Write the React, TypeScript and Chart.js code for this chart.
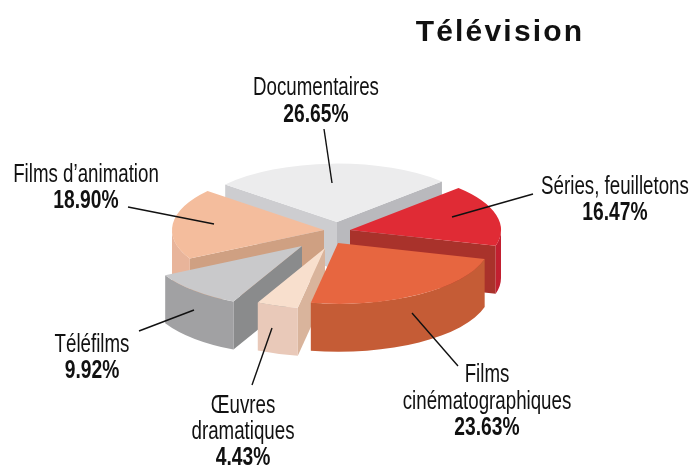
import React, { useEffect, useRef } from "react";
import { Chart, registerables } from "chart.js";

Chart.register(...registerables);

const categories = ["Documentaires", "Séries, feuilletons", "Films cinématographiques", "Œuvres dramatiques", "Téléfilms", "Films d'animation"];
const shares = [26.65, 16.47, 23.63, 4.43, 9.92, 18.9];
const topColors = ["#ececed", "#e02b35", "#e76640", "#f8dfcd", "#c9c9cb", "#f4bd9d"];
const outerWallColors = ["#cdcdd0", "#c21f30", "#c55c36", "#e9c9b9", "#a1a1a3", "#e8b49a"];
const startWallColors = ["#cdcdd0", "#a9322b", "#c55c36", "#d9b49c", "#8a8b8c", "#cfa082"];
const endWallColors = ["#b9b9bd", "#a9322b", "#c55c36", "#d9b49c", "#8a8b8c", "#cfa082"];

// how each slice is pulled out of the pie, on screen, and its radius
const pullX = [0, 13, 1, -12, -35, -13];
const pullY = [-9, -1, 12, 17, 15, -1];
const sliceRadius = [146, 151, 152, 152, 155, 152];
const paintOrder = [0, 5, 1, 4, 3, 2];

const TILT = 0.4;
const DEPTH = 48;

type Caption = { lines: string[]; value: number; cx: number; base: number; gap: number; leader: number[] };
const captions: Caption[] = [
  { lines: ["Documentaires"], value: 0, cx: 316, base: 95, gap: 27, leader: [324, 129, 332, 183] },
  { lines: ["Séries, feuilletons"], value: 1, cx: 615, base: 194, gap: 26, leader: [533, 194, 452, 217] },
  { lines: ["Films", "cinématographiques"], value: 2, cx: 487, base: 382, gap: 26.5, leader: [458, 366, 412, 313] },
  { lines: ["Œuvres", "dramatiques"], value: 3, cx: 243, base: 413, gap: 26, leader: [252, 385, 272, 328] },
  { lines: ["Téléfilms"], value: 4, cx: 92, base: 352, gap: 26, leader: [139, 331, 194, 310] },
  { lines: ["Films d’animation"], value: 5, cx: 86, base: 182, gap: 26, leader: [128, 207, 214, 224] },
];

const pie3d = {
  id: "pie3d",
  beforeDatasetDraw(chart: any, args: any) {
    const ctx = chart.ctx;
    const area = chart.chartArea;
    const cx = (area.left + area.right) / 2;
    const cy = (area.top + area.bottom) / 2;
    const arcs = args.meta.data;
    arcs.forEach((arc: any, i: number) => {
      arc.x = cx + pullX[i];
      arc.y = cy + pullY[i] / TILT;
      arc.outerRadius = sliceRadius[i];
    });
    const wall = (arc: any, angle: number, color: string) => {
      const ax = arc.x;
      const ay = cy + (arc.y - cy) * TILT;
      const r = arc.outerRadius;
      const ex = ax + Math.cos(angle) * r;
      const ey = ay + Math.sin(angle) * r * TILT;
      ctx.fillStyle = color;
      ctx.beginPath();
      ctx.moveTo(ax, ay);
      ctx.lineTo(ex, ey);
      ctx.lineTo(ex, ey + DEPTH);
      ctx.lineTo(ax, ay + DEPTH);
      ctx.closePath();
      ctx.fill();
    };
    ctx.save();
    for (const i of paintOrder) {
      const arc = arcs[i];
      const s = arc.startAngle;
      const e = arc.endAngle;
      if (Math.cos(s) < 0) wall(arc, s, startWallColors[i]);
      if (Math.cos(e) > 0) wall(arc, e, endWallColors[i]);
      const norm = (a: number) => Math.atan2(Math.sin(a), Math.cos(a));
      let a0 = norm(s);
      let a1 = a0 + (e - s);
      a0 = Math.max(a0, 0);
      a1 = Math.min(a1, Math.PI);
      if (a1 > a0) {
        const ax = arc.x;
        const ay = cy + (arc.y - cy) * TILT;
        const r = arc.outerRadius;
        ctx.fillStyle = outerWallColors[i];
        ctx.beginPath();
        ctx.ellipse(ax, ay, r, r * TILT, 0, a0, a1, false);
        ctx.ellipse(ax, ay + DEPTH, r, r * TILT, 0, a1, a0, true);
        ctx.closePath();
        ctx.fill();
      }
    }
    ctx.restore();
    ctx.save();
    ctx.translate(0, cy);
    ctx.scale(1, TILT);
    ctx.translate(0, -cy);
  },
  afterDatasetDraw(chart: any) {
    chart.ctx.restore();
  },
  afterDraw(chart: any) {
    const ctx = chart.ctx;
    ctx.save();
    ctx.fillStyle = "#111";
    ctx.textBaseline = "alphabetic";
    ctx.textAlign = "center";
    const text = (t: string, x: number, y: number, bold: boolean) => {
      ctx.save();
      ctx.font = `${bold ? "bold " : ""}26px "Liberation Sans", sans-serif`;
      ctx.translate(x, y);
      ctx.scale(bold ? 0.74 : 0.72, 1);
      ctx.fillText(t, 0, 0);
      ctx.restore();
    };
    ctx.strokeStyle = "#111";
    ctx.lineWidth = 1.4;
    for (const c of captions) {
      c.lines.forEach((l, k) => text(l, c.cx, c.base + k * c.gap, false));
      text(shares[c.value].toFixed(2) + "%", c.cx, c.base + c.lines.length * c.gap, true);
      ctx.beginPath();
      ctx.moveTo(c.leader[0], c.leader[1]);
      ctx.lineTo(c.leader[2], c.leader[3]);
      ctx.stroke();
    }
    ctx.font = 'bold 30px "Liberation Sans", sans-serif';
    (ctx as any).letterSpacing = "2.2px";
    ctx.fillText("Télévision", 500, 41);
    ctx.restore();
  },
};

export default function App() {
  const ref = useRef<HTMLCanvasElement>(null);
  useEffect(() => {
    document.body.style.margin = "0";
    const chart = new Chart(ref.current!, {
      type: "pie",
      data: {
        labels: categories,
        datasets: [
          {
            data: shares,
            backgroundColor: topColors,
            borderWidth: 0,
            radius: 152,
            clip: false,
          } as any,
        ],
      },
      options: {
        responsive: false,
        animation: false,
        events: [],
        rotation: -50,
        layout: { padding: { right: 17, bottom: 5 } },
        plugins: { legend: { display: false }, tooltip: { enabled: false } },
      },
      plugins: [pie3d],
    });
    return () => chart.destroy();
  }, []);
  return <canvas ref={ref} width={691} height={467} style={{ display: "block" }} />;
}
